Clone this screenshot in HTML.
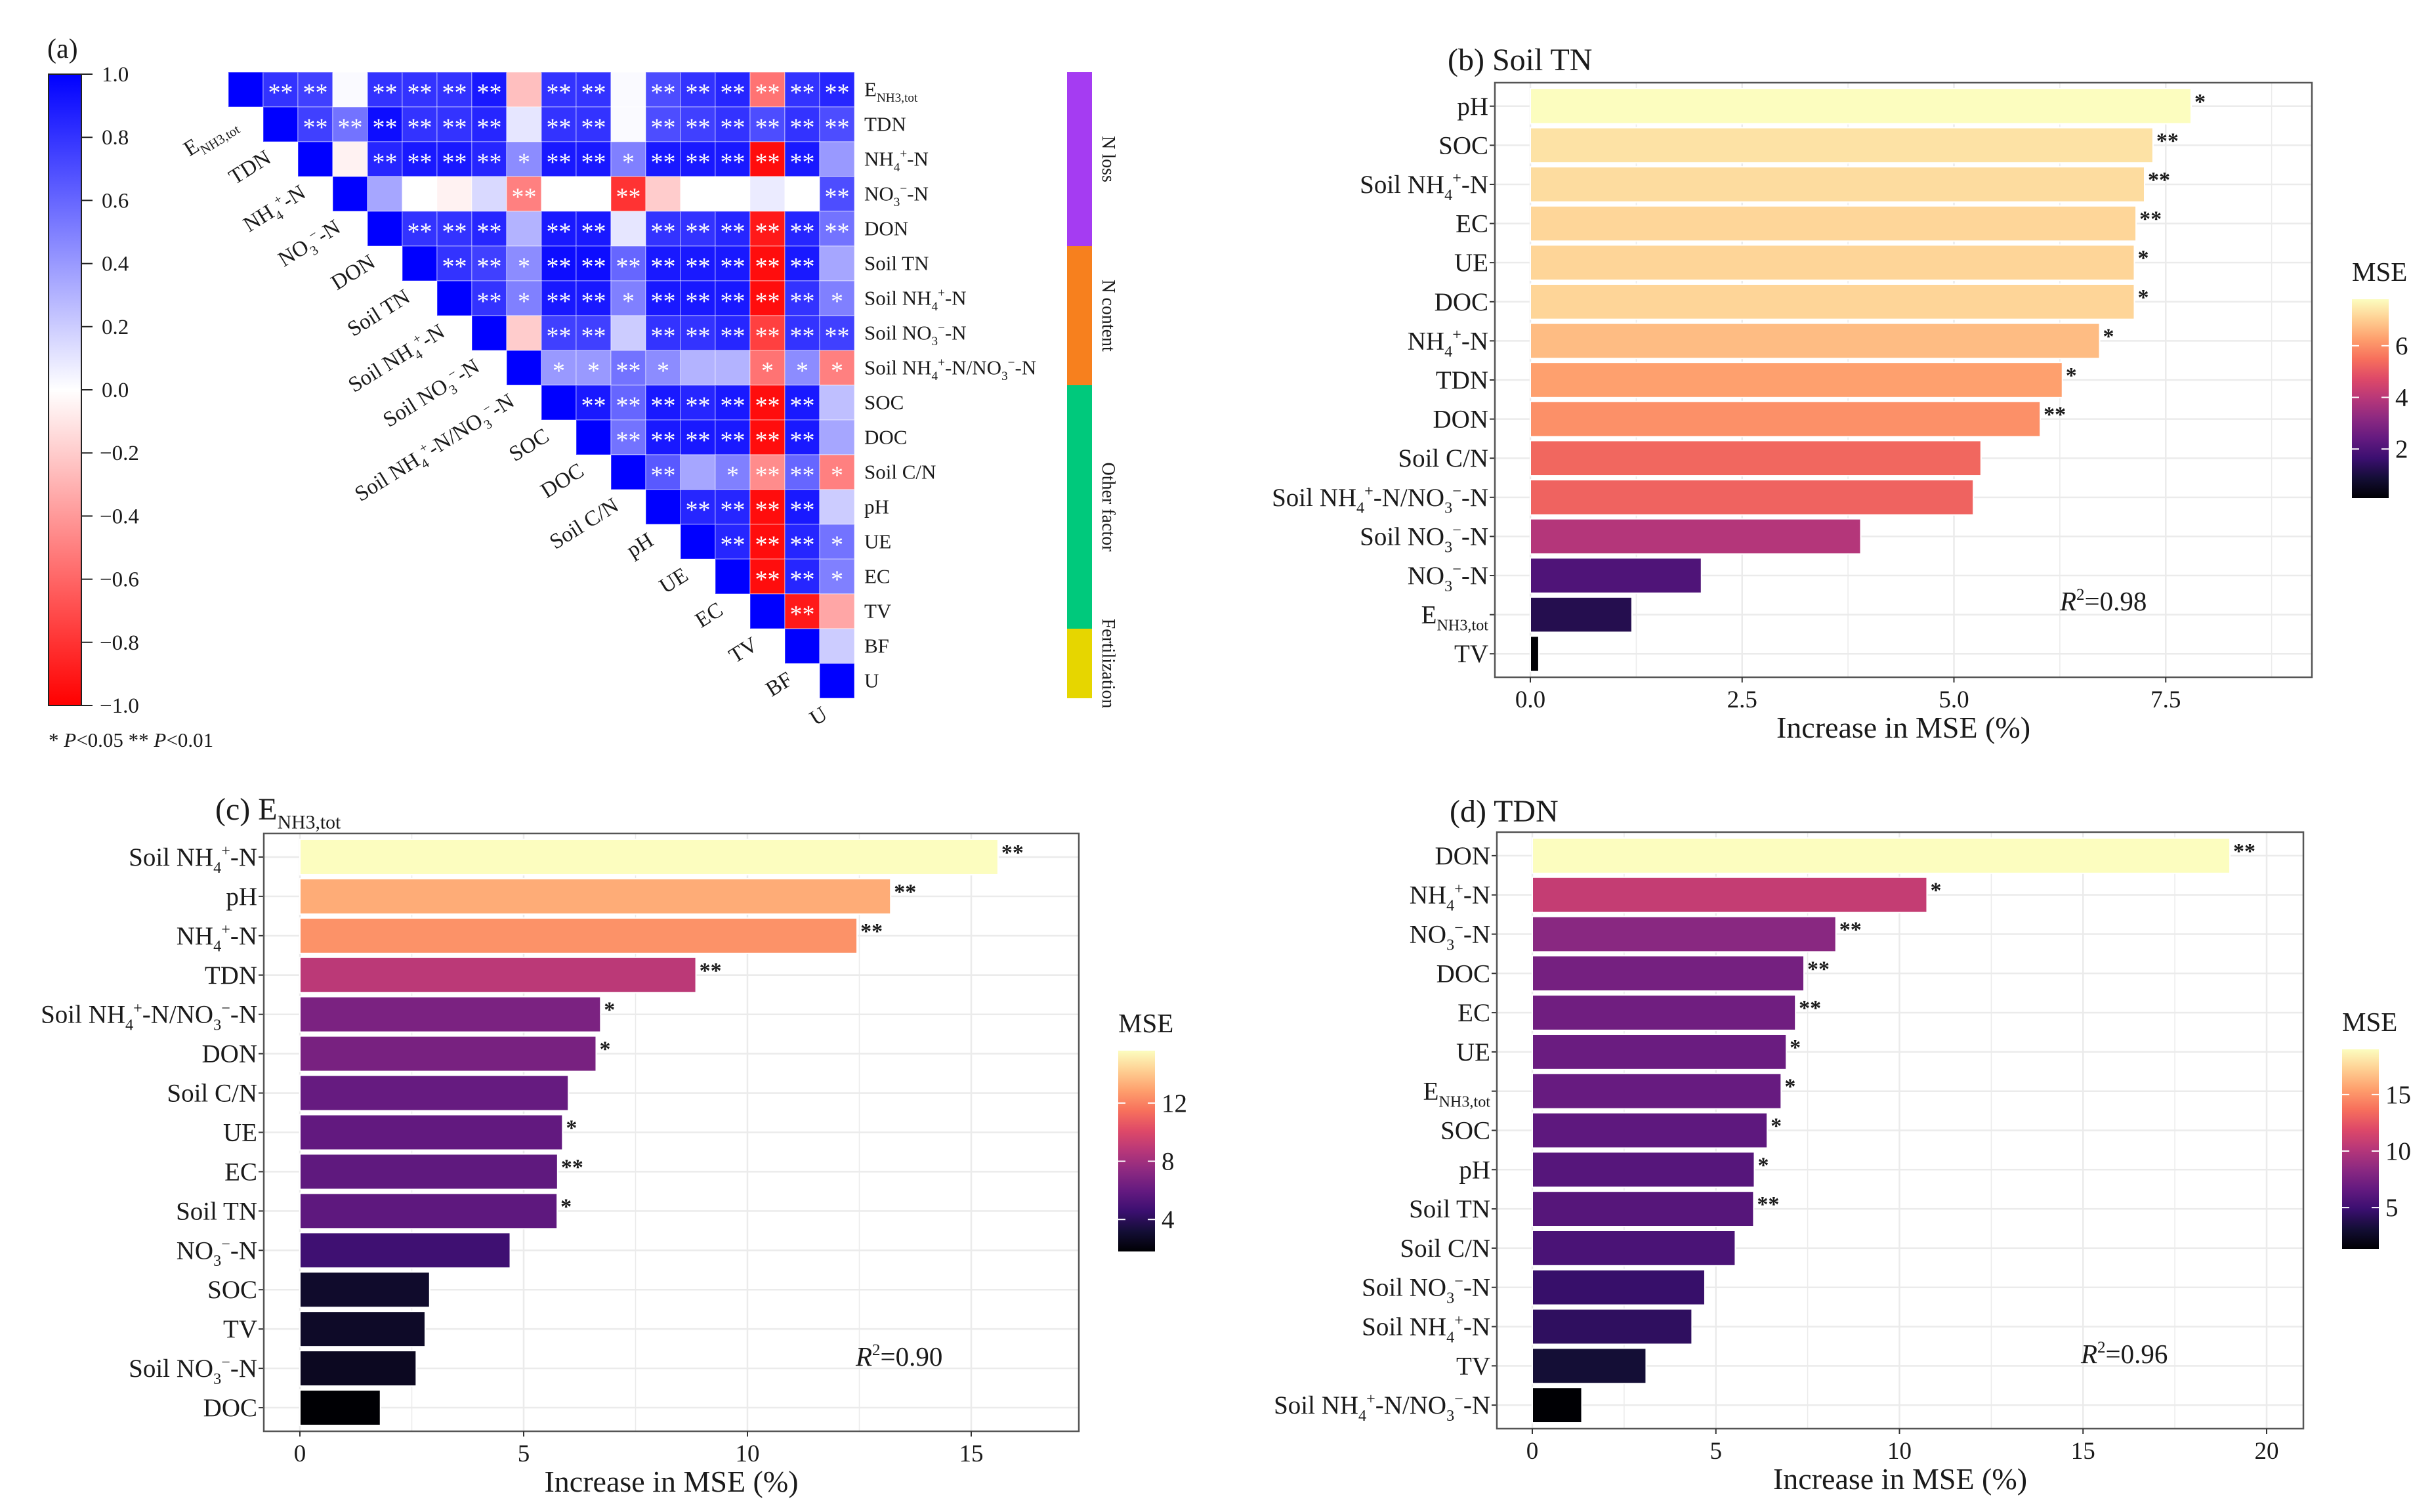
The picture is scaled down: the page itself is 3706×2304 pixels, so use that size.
<!DOCTYPE html>
<html><head><meta charset="utf-8"><style>
html,body{margin:0;padding:0;background:#fff}
svg{display:block}
svg, svg text, svg tspan{font-family:"Liberation Serif","DejaVu Serif",serif}
</style></head><body>
<svg id="fig" xmlns="http://www.w3.org/2000/svg" width="3706" height="2304" viewBox="0 0 3706 2304" font-family="Liberation Serif, DejaVu Serif, serif">
<defs>
<linearGradient id="corrGrad" x1="0" y1="0" x2="0" y2="1">
<stop offset="0" stop-color="#0000ff"/><stop offset="0.5" stop-color="#ffffff"/><stop offset="1" stop-color="#ff0000"/>
</linearGradient>
<linearGradient id="magma" x1="0" y1="1" x2="0" y2="0">
<stop offset="0" stop-color="#000004"/><stop offset="0.1" stop-color="#140e36"/><stop offset="0.2" stop-color="#3b0f70"/><stop offset="0.3" stop-color="#641a80"/><stop offset="0.4" stop-color="#8c2981"/><stop offset="0.5" stop-color="#b73779"/><stop offset="0.6" stop-color="#de4968"/><stop offset="0.7" stop-color="#f7705c"/><stop offset="0.8" stop-color="#fe9f6d"/><stop offset="0.9" stop-color="#fecf92"/><stop offset="1" stop-color="#fcfdbf"/>
</linearGradient>
</defs>
<rect width="3706" height="2304" fill="#fff"/>
<g id="heat"></g>
<g id="pb"></g>
<g id="pc"></g>
<g id="pd"></g>
</svg>
<script>
// ---------- Panel (a) data ----------
const heatVars = ["E_{NH3,tot}","TDN","NH_{4}^{+}-N","NO_{3}^{−}-N","DON","Soil TN","Soil NH_{4}^{+}-N","Soil NO_{3}^{−}-N","Soil NH_{4}^{+}-N/NO_{3}^{−}-N","SOC","DOC","Soil C/N","pH","UE","EC","TV","BF","U"];
const corrVals = [
 [1,.8,.75,.02,.8,.8,.8,.9,-.25,.8,.8,.02,.7,.8,.85,-.55,.8,.85],
 [1,.75,.55,.95,.8,.8,.85,.1,.8,.8,.02,.7,.75,.8,.7,.8,.7],
 [1,-.05,.85,.9,.9,.85,.45,.9,.9,.5,.9,.9,.9,-.95,.9,.4],
 [1,.35,0,-.05,.15,-.5,0,0,-.8,-.2,0,0,.08,0,.7],
 [1,.8,.8,.85,.3,.9,.9,.1,.8,.8,.85,-.9,.85,.55],
 [1,.8,.75,.45,.95,.95,.6,.9,.9,.9,-.95,.9,.35],
 [1,.8,.5,.9,.9,.5,.9,.9,.9,-.95,.8,.5],
 [1,-.2,.75,.75,.2,.8,.8,.85,-.75,.8,.75],
 [1,.4,.4,.55,.45,.3,.3,-.55,.45,-.5],
 [1,.9,.6,.9,.85,.9,-.95,.9,.25],
 [1,.55,.9,.9,.9,-.95,.9,.35],
 [1,.65,.35,.5,-.45,.6,-.5],
 [1,.85,.85,-.95,.9,.2],
 [1,.85,-.95,.85,.55],
 [1,-.95,.85,.5],
 [1,-.9,-.35],
 [1,.2],
 [1]
];
const corrSig = [
 ["","**","**","","**","**","**","**","","**","**","","**","**","**","**","**","**"],
 ["","**","**","**","**","**","**","","**","**","","**","**","**","**","**","**"],
 ["","","**","**","**","**","*","**","**","*","**","**","**","**","**",""],
 ["","","","","","**","","","**","","","","","","**"],
 ["","**","**","**","","**","**","","**","**","**","**","**","**"],
 ["","**","**","*","**","**","**","**","**","**","**","**",""],
 ["","**","*","**","**","*","**","**","**","**","**","*"],
 ["","","**","**","","**","**","**","**","**","**"],
 ["","*","*","**","*","","","*","*","*"],
 ["","**","**","**","**","**","**","**",""],
 ["","**","**","**","**","**","**",""],
 ["","**","","*","**","**","*"],
 ["","**","**","**","**",""],
 ["","**","**","**","*"],
 ["","**","**","*"],
 ["","**",""],
 ["",""],
 [""]
];
const corrTicks = [1.0,0.8,0.6,0.4,0.2,0.0,-0.2,-0.4,-0.6,-0.8,-1.0];
const groupNames = ["N loss","N content","Other factor","Fertilization"];
const groupSizes = [5,4,7,2];
const groupColors = ["#a53cf2","#f7801e","#00c97c","#e6d600"];

// ---------- Panel (b) data ----------
const bCats = ["pH","SOC","Soil NH_{4}^{+}-N","EC","UE","DOC","NH_{4}^{+}-N","TDN","DON","Soil C/N","Soil NH_{4}^{+}-N/NO_{3}^{−}-N","Soil NO_{3}^{−}-N","NO_{3}^{−}-N","E_{NH3,tot}","TV"];
const bVals = [7.8,7.35,7.25,7.15,7.13,7.13,6.72,6.28,6.02,5.32,5.23,3.9,2.02,1.2,0.1];
const bSig = ["*","**","**","**","*","*","*","*","**","","","","","",""];
const bTicks = [0,2.5,5,7.5];
const bTickLabels = ["0.0","2.5","5.0","7.5"];
const bLegTicks = [2,4,6];

// ---------- Panel (c) data ----------
const cCats = ["Soil NH_{4}^{+}-N","pH","NH_{4}^{+}-N","TDN","Soil NH_{4}^{+}-N/NO_{3}^{−}-N","DON","Soil C/N","UE","EC","Soil TN","NO_{3}^{−}-N","SOC","TV","Soil NO_{3}^{−}-N","DOC"];
const cVals = [15.6,13.2,12.45,8.85,6.72,6.62,6.0,5.87,5.76,5.75,4.7,2.9,2.8,2.6,1.8];
const cSig = ["**","**","**","**","*","*","","*","**","*","","","","",""];
const cTicks = [0,5,10,15];
const cTickLabels = ["0","5","10","15"];
const cLegTicks = [4,8,12];

// ---------- Panel (d) data ----------
const dCats = ["DON","NH_{4}^{+}-N","NO_{3}^{−}-N","DOC","EC","UE","E_{NH3,tot}","SOC","pH","Soil TN","Soil C/N","Soil NO_{3}^{−}-N","Soil NH_{4}^{+}-N","TV","Soil NH_{4}^{+}-N/NO_{3}^{−}-N"];
const dVals = [19.0,10.75,8.27,7.4,7.17,6.92,6.78,6.4,6.05,6.03,5.53,4.7,4.35,3.1,1.35];
const dSig = ["**","*","**","**","**","*","*","*","*","**","","","","",""];
const dTicks = [0,5,10,15,20];
const dTickLabels = ["0","5","10","15","20"];
const dLegTicks = [5,10,15];

const NS = "http://www.w3.org/2000/svg";
const FONT = "Liberation Serif, DejaVu Serif, serif";
function mk(tag, attrs, parent){
  const e = document.createElementNS(NS, tag);
  for (const k in attrs) e.setAttribute(k, attrs[k]);
  if (tag === "text"){ e.setAttribute("font-family", FONT); if(!attrs.fill) e.setAttribute("fill","#1a1a1a"); }
  if (parent) parent.appendChild(e);
  return e;
}
function richText(t, str, fs){
  const re = /(_\{[^}]*\}|\^\{[^}]*\})/g;
  const parts = str.split(re).filter(s=>s.length);
  let shift = 0;
  parts.forEach(p=>{
    const ts = document.createElementNS(NS,"tspan");
    if (p.startsWith("_{")){
      ts.textContent = p.slice(2,-1);
      ts.setAttribute("font-size", fs*0.62);
      ts.setAttribute("dy", (fs*0.28 - shift)); shift = fs*0.28;
    } else if (p.startsWith("^{")){
      ts.textContent = p.slice(2,-1);
      ts.setAttribute("font-size", fs*0.62);
      ts.setAttribute("dy", (-fs*0.38 - shift)); shift = -fs*0.38;
    } else {
      ts.textContent = p;
      if (shift!==0){ ts.setAttribute("dy", -shift); shift = 0; }
    }
    t.appendChild(ts);
  });
}
function corrColor(r){
  if (r>=0){ const v=Math.round(255*(1-r)); return `rgb(${v},${v},255)`; }
  const v=Math.round(255*(1+r)); return `rgb(255,${v},${v})`;
}
const magmaStops = [[0,[0,0,4]],[.1,[20,14,54]],[.2,[59,15,112]],[.3,[100,26,128]],[.4,[140,41,129]],[.5,[183,55,121]],[.6,[222,73,104]],[.7,[247,112,92]],[.8,[254,159,109]],[.9,[254,207,146]],[1,[252,253,191]]];
function magma(t){
  t=Math.max(0,Math.min(1,t));
  for(let i=1;i<magmaStops.length;i++){
    if(t<=magmaStops[i][0]){
      const [a,ca]=magmaStops[i-1],[b,cb]=magmaStops[i];
      const f=(t-a)/(b-a);
      return `rgb(${ca.map((c,j)=>Math.round(c+(cb[j]-c)*f)).join(",")})`;
    }
  }
  return "rgb(252,253,191)";
}

// ---------- Draw heatmap ----------
(function(){
  const g = document.getElementById("heat");
  const x0=348, y0=110, c=53, n=heatVars.length;
  const title = mk("text",{x:72,y:88,"font-size":42},g); title.textContent="(a)";
  
  
  const cbTop=113, cbBot=1075, cbL=74, cbR=124;
  const cb = mk("rect",{x:cbL,y:cbTop,width:cbR-cbL,height:cbBot-cbTop,fill:"url(#corrGrad)",stroke:"#222","stroke-width":2},g);
  
  
  const cy = v => cbTop + (1-v)/2*(cbBot-cbTop);
  corrTicks.forEach(v=>{
    mk("line",{x1:cbR,x2:cbR+17,y1:cy(v),y2:cy(v),stroke:"#222","stroke-width":2},g);
    const t = mk("text",{x:v<0?152:155,y:cy(v)+11,"font-size":33},g);
    t.textContent = (v<0?"−":"")+Math.abs(v).toFixed(1);
    
    
  });
  const sig = mk("text",{x:74,y:1138,"font-size":31},g);
  sig.innerHTML = '* <tspan font-style="italic">P</tspan>&lt;0.05  ** <tspan font-style="italic">P</tspan>&lt;0.01';
  
  
  for(let i=0;i<n;i++){
    for(let k=0;k<corrVals[i].length;k++){
      const j=i+k, r=corrVals[i][k];
      const cell = mk("rect",{x:x0+j*c,y:y0+i*c,width:c,height:c,fill:corrColor(r),stroke:"rgba(255,255,255,0.35)","stroke-width":1.5},g);
      
      
      const s = corrSig[i][k];
      if (s){
        const st = mk("text",{x:x0+j*c+c/2,y:y0+i*c+c/2+17,"font-size":38,"text-anchor":"middle",fill:"#ffffff"},g);
        st.textContent=s;
        
        
      }
    }
    const rl = mk("text",{x:1317,y:y0+i*c+c/2+10,"font-size":31},g);
    richText(rl, heatVars[i], 31);
    
    
    const ax=x0+i*c+14, ay=y0+(i+1)*c+30;
    const dl = mk("text",{x:ax,y:ay,"font-size":33,"text-anchor":"end",transform:`rotate(-32 ${ax} ${ay})`},g);
    richText(dl, heatVars[i], 33);
    
    
  }
  let start=0;
  groupNames.forEach((nm,gi)=>{
    const yt=y0+start*c, h=groupSizes[gi]*c;
    const r = mk("rect",{x:1626,y:yt,width:38,height:h,fill:groupColors[gi]},g);
    
    
    const tx=1680, ty=yt+h/2;
    const t = mk("text",{x:tx,y:ty,"font-size":28,"text-anchor":"middle",transform:`rotate(90 ${tx} ${ty})`},g);
    t.textContent=nm;
    
    
    start+=groupSizes[gi];
  });
})();

// ---------- Bar chart ----------
function drawBars(gid, cats, vals, sigs, ticks, tickLabels, legTicks, L){
  const g=document.getElementById(gid);
  const n=cats.length;
  const step=(L.bottom-L.top)/(n+0.2);
  const X=v=>L.x0+v*L.k;
  const Y=i=>L.top+(0.6+i)*step;
  const vmin=Math.min(...vals), vmax=Math.max(...vals);
  mk("rect",{x:L.left,y:L.top,width:L.right-L.left,height:L.bottom-L.top,fill:"#fff"},g);
  for(let t=0;t<ticks.length;t++){
    const v=ticks[t], half=(ticks[1]-ticks[0])/2;
    [v, v+half].forEach((vv,m)=>{
      const xx=X(vv); if(xx>L.left&&xx<L.right)
        mk("line",{x1:xx,x2:xx,y1:L.top,y2:L.bottom,stroke:"#ebebeb","stroke-width":m?1.5:2.5},g);
    });
  }
  for(let i=0;i<n;i++) mk("line",{x1:L.left,x2:L.right,y1:Y(i),y2:Y(i),stroke:"#ebebeb","stroke-width":2.5},g);
  for(let i=0;i<n;i++){
    const h=step*0.9;
    const b=mk("rect",{x:X(0),y:Y(i)-h/2,width:X(vals[i])-X(0),height:h,fill:magma((vals[i]-vmin)/(vmax-vmin)),stroke:"#fff","stroke-width":2},g);
    
    
    if(sigs[i]){
      const s=mk("text",{x:X(vals[i])+5,y:Y(i)+4,"font-size":34,"font-weight":"bold"},g);
      s.textContent=sigs[i];
      
      
    }
    mk("line",{x1:L.left-8,x2:L.left,y1:Y(i),y2:Y(i),stroke:"#333","stroke-width":2},g);
    const lab=mk("text",{x:L.left-10,y:Y(i)+13,"font-size":39,"text-anchor":"end"},g);
    richText(lab,cats[i],39);
    
    
  }
  mk("rect",{x:L.left,y:L.top,width:L.right-L.left,height:L.bottom-L.top,fill:"none",stroke:"#555","stroke-width":2.5},g);
  ticks.forEach((v,i)=>{
    mk("line",{x1:X(v),x2:X(v),y1:L.bottom,y2:L.bottom+8,stroke:"#333","stroke-width":2},g);
    const t=mk("text",{x:X(v),y:L.bottom+46,"font-size":37,"text-anchor":"middle"},g);
    t.textContent=tickLabels[i];
    
    
  });
  const xt=mk("text",{x:(L.left+L.right)/2,y:L.bottom+92,"font-size":46,"text-anchor":"middle"},g);
  xt.textContent="Increase in MSE (%)";
  
  
  const ti=mk("text",{x:L.tx,y:L.ty,"font-size":48},g);
  richText(ti,L.title,48);
  
  
  const r2=mk("text",{x:L.r2x,y:L.r2y,"font-size":41},g);
  r2.innerHTML='<tspan font-style="italic">R</tspan><tspan font-size="25" dy="-16">2</tspan><tspan dy="16">='+L.r2+'</tspan>';
  
  
  const lg=mk("rect",{x:L.lx,y:L.ly,width:56,height:L.lh,fill:"url(#magma)"},g);
  
  
  const LY=v=>L.ly+L.lh-(v-vmin)/(vmax-vmin)*L.lh;
  legTicks.forEach(v=>{
    mk("line",{x1:L.lx,x2:L.lx+11,y1:LY(v),y2:LY(v),stroke:"#fff","stroke-width":2},g);
    mk("line",{x1:L.lx+45,x2:L.lx+56,y1:LY(v),y2:LY(v),stroke:"#fff","stroke-width":2},g);
    const t=mk("text",{x:L.lx+66,y:LY(v)+13,"font-size":39},g);
    t.textContent=v;
    
    
  });
  const lt=mk("text",{x:L.lx,y:L.ly-28,"font-size":41},g);
  lt.textContent="MSE";
  
  
}
drawBars("pb",bCats,bVals,bSig,bTicks,bTickLabels,bLegTicks,
 {left:2278,right:3523,top:126,bottom:1032,x0:2332,k:129.1,title:"(b) Soil TN",tx:2206,ty:107,r2:"0.98",r2x:3139,r2y:930,lx:3584,ly:456,lh:303});
drawBars("pc",cCats,cVals,cSig,cTicks,cTickLabels,cLegTicks,
 {left:402,right:1644,top:1270,bottom:2181,x0:457,k:68.2,title:"(c) E_{NH3,tot}",tx:328,ty:1249,r2:"0.90",r2x:1304,r2y:2081,lx:1704,ly:1601,lh:306});
drawBars("pd",dCats,dVals,dSig,dTicks,dTickLabels,dLegTicks,
 {left:2281,right:3510,top:1268,bottom:2177,x0:2335,k:55.95,title:"(d) TDN",tx:2209,ty:1252,r2:"0.96",r2x:3171,r2y:2077,lx:3569,ly:1599,lh:304});
</script>
</body></html>
